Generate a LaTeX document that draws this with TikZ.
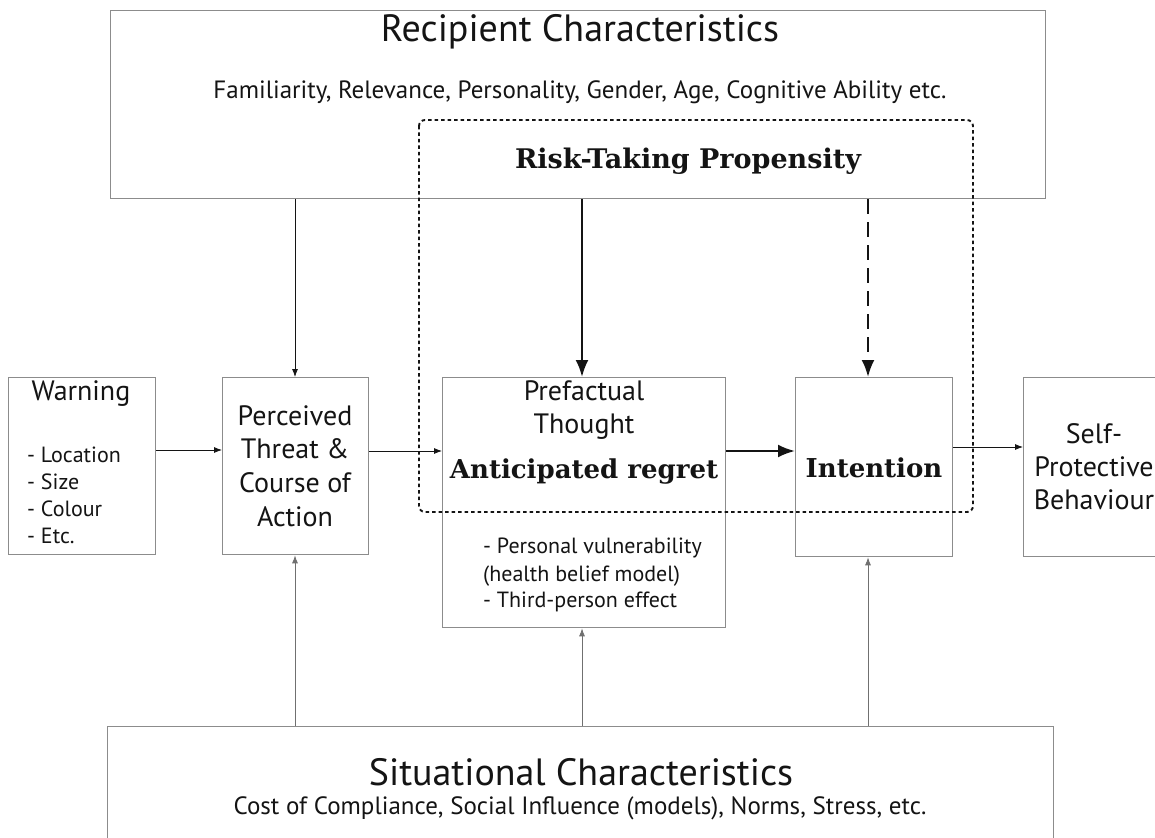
\documentclass[tikz,border=0pt]{standalone}
\usepackage{fontspec}
\setmainfont{PT Sans}
\newfontfamily\boldserif{DejaVu Serif}
\usetikzlibrary{arrows.meta}
\definecolor{boxgray}{HTML}{8C8C8C}
\definecolor{ink}{HTML}{141414}

\begin{document}
\begin{tikzpicture}[x=1pt,y=-1pt,
  box/.style={draw=boxgray, line width=1.3pt, inner sep=0pt, anchor=north west},
  txt/.style={inner sep=0pt, anchor=base, text=ink},
  titletxt/.style={txt, font=\fontsize{38}{44}\selectfont},
  subtxt/.style={txt, font=\fontsize{25}{30}\selectfont},
  labtxt/.style={txt, font=\fontsize{28}{33}\selectfont},
  listtxt/.style={txt, anchor=base west, font=\fontsize{22}{26}\selectfont},
  boldtxt/.style={txt, font=\boldserif\bfseries\fontsize{26}{30}\selectfont},
  thinarrow/.style={-{Latex[length=8pt,width=6pt]}, line width=0.8pt, draw=ink},
  grayarrow/.style={-{Latex[length=8pt,width=6pt]}, line width=0.9pt, draw=boxgray!80!black},
  thickarrow/.style={-{Latex[length=17pt,width=13pt]}, line width=2.4pt, draw=ink},
  dashedarrow/.style={thickarrow, dash pattern=on 15pt off 8pt},
  groupframe/.style={draw=ink, line width=1.9pt, dash pattern=on 3.5pt off 3pt, rounded corners=6pt}
]
\clip (0,0) rectangle (1155,837);
\fill[white] (0,0) rectangle (1155,837);

% outer context boxes
\node[box, minimum width=935pt, minimum height=188pt] (recip) at (110,10) {};
\node[box, minimum width=946pt, minimum height=140pt] (situ) at (107,726) {};

% process boxes
\node[box, minimum width=147pt, minimum height=177pt] (warn) at (8,377) {};
\node[box, minimum width=146pt, minimum height=177pt] (perc) at (222,377) {};
\node[box, minimum width=283pt, minimum height=250pt] (pref) at (442,377) {};
\node[box, minimum width=157pt, minimum height=179pt] (intent) at (795,377) {};
\node[box, minimum width=142pt, minimum height=179pt] (selfp) at (1023,377) {};

% dotted grouping frame
\draw[groupframe] (419,120) rectangle (973,512);

% texts: recipient characteristics
\node[titletxt] (recipT) at (580,42) {Recipient Characteristics};
\node[subtxt] (recipS) at (580,99) {Familiarity, Relevance, Personality, Gender, Age, Cognitive Ability etc.};
\node[boldtxt, font=\boldserif\bfseries\fontsize{27}{31}\selectfont] (risk) at (688,168) {Risk-Taking Propensity};

% warning
\node[labtxt] (warnT) at (81,400) {Warning};
\node[listtxt] (w1) at (27,462) {- Location};
\node[listtxt] (w2) at (27,489) {- Size};
\node[listtxt] (w3) at (27,516) {- Colour};
\node[listtxt] (w4) at (27,543) {- Etc.};

% perceived threat
\node[labtxt] (p1) at (295,425) {Perceived};
\node[labtxt] (p2) at (295,458) {Threat \&};
\node[labtxt] (p3) at (295,492) {Course of};
\node[labtxt] (p4) at (295,526) {Action};

% prefactual thought
\node[labtxt] (f1) at (584,400) {Prefactual};
\node[labtxt] (f2) at (584,433) {Thought};
\node[boldtxt] (f3) at (584,478) {Anticipated regret};
\node[listtxt] (f4) at (483,553) {- Personal vulnerability};
\node[listtxt] (f5) at (483,581) {(health belief model)};
\node[listtxt] (f6) at (483,607) {- Third-person effect};

% intention
\node[boldtxt] (intT) at (874,477) {Intention};

% self-protective behaviour
\node[labtxt] (s1) at (1094,443) {Self-};
\node[labtxt] (s2) at (1094,476) {Protective};
\node[labtxt] (s3) at (1094,509) {Behaviour};

% situational characteristics
\node[titletxt] (situT) at (581,785) {Situational Characteristics};
\node[subtxt] (situS) at (580,814) {Cost of Compliance, Social Influence (models), Norms, Stress, etc.};

% connector rows and columns
\coordinate (rowA) at (0,450);
\coordinate (rowB) at (0,451);
\coordinate (rowC) at (0,447);
\coordinate (colP) at (295,0);
\coordinate (colF) at (582,0);
\coordinate (colI) at (868,0);

% top-down influences
\draw[thinarrow] (recip.south -| colP) -- (perc.north -| colP);
\draw[thickarrow] (recip.south -| colF) -- (pref.north -| colF);
\draw[dashedarrow] (recip.south -| colI) -- (intent.north -| colI);

% main chain
\draw[thinarrow] (warn.east |- rowA) -- (perc.west |- rowA);
\draw[thinarrow] (perc.east |- rowB) -- (pref.west |- rowB);
\draw[thickarrow] (pref.east |- rowB) -- (intent.west |- rowB);
\draw[thinarrow] (intent.east |- rowC) -- (selfp.west |- rowC);

% bottom-up influences
\draw[grayarrow] (situ.north -| colP) -- (perc.south -| colP);
\draw[grayarrow] (situ.north -| colF) -- (pref.south -| colF);
\draw[grayarrow] (situ.north -| colI) -- (intent.south -| colI);
\end{tikzpicture}
\end{document}
